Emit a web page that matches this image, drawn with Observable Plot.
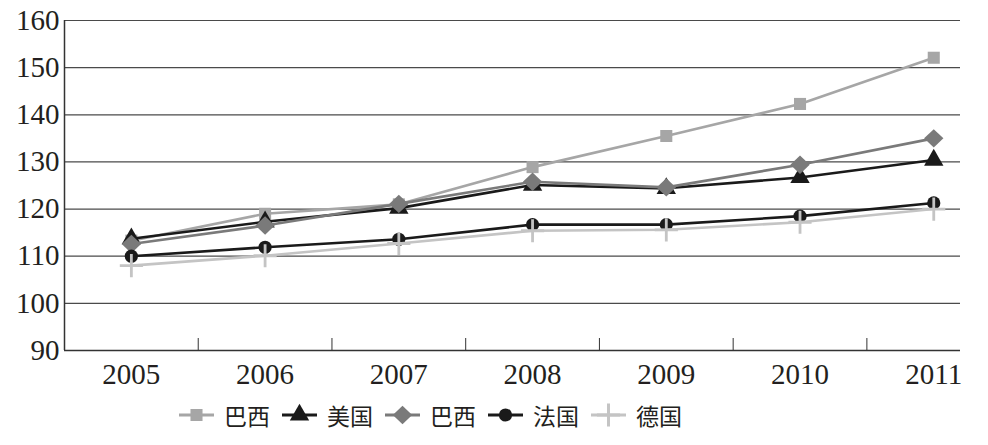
<!DOCTYPE html>
<html><head><meta charset="utf-8">
<script src="https://cdn.jsdelivr.net/npm/d3@7"></script>
<script src="https://cdn.jsdelivr.net/npm/@observablehq/plot@0.6"></script>
<style>
body{margin:0;background:#fff;}
#legend{display:flex;align-items:center;height:40px;margin-left:179px;font-family:"Noto Sans CJK SC";font-size:23px;color:#231f20;}
#legend .item{display:flex;align-items:center;margin-right:12px;}
#legend svg{margin-right:10px;}
</style>
</head><body>
<div id="chart"></div>
<div id="legend"></div>
<script>
const years = [2005, 2006, 2007, 2008, 2009, 2010, 2011];
const seriesNames = ["巴西", "美国", "巴西", "法国", "德国"];
const brazilSquare = [113.3, 119.0, 121.0, 128.9, 135.5, 142.3, 152.1];
const usa = [113.7, 117.3, 120.2, 125.1, 124.4, 126.7, 130.4];
const brazilDiamond = [112.6, 116.5, 121.1, 125.8, 124.6, 129.4, 135.0];
const france = [110.0, 111.9, 113.6, 116.7, 116.7, 118.5, 121.3];
const germany = [108.0, 110.1, 112.7, 115.4, 115.6, 117.2, 120.0];
const yTicks = [90, 100, 110, 120, 130, 140, 150, 160];
const bandEdges = [2005.5, 2006.5, 2007.5, 2008.5, 2009.5, 2010.5];

// square-ish diamond (rotated square)
const symbolRhombus = {
  draw(context, size) {
    const h = Math.sqrt(size / 2) * 1.05;
    context.moveTo(0, -h);
    context.lineTo(h * 1.05, 0);
    context.lineTo(0, h);
    context.lineTo(-h * 1.05, 0);
    context.closePath();
  }
};

const seriesValues = [brazilSquare, usa, brazilDiamond, france, germany];
const styles = [
  {color: "#a6a6a6", symbol: d3.symbolSquare, r: 6.8, filled: true},
  {color: "#1a1a1a", symbol: d3.symbolTriangle, r: 7.2, filled: true},
  {color: "#7a7a7a", symbol: symbolRhombus, r: 7.0, filled: true},
  {color: "#1a1a1a", symbol: d3.symbolCircle, r: 6.6, filled: true},
  {color: "#c4c4c4", symbol: d3.symbolPlus, r: 7.5, filled: false}
];

const marks = [
  Plot.ruleY(yTicks, {stroke: "#4a4a4a", strokeWidth: 1.2}),
  Plot.ruleX([2004.5], {stroke: "#333", strokeWidth: 1.5}),
  Plot.ruleY([90], {stroke: "#333", strokeWidth: 1.5}),
  Plot.axisX({ticks: bandEdges, tickSize: -12, tickFormat: () => "", stroke: "#333", label: null}),
  Plot.axisX({ticks: years, tickSize: 0, tickPadding: 13, tickFormat: d => String(d), fontSize: 29, fill: "#231f20", label: null}),
  Plot.axisY({ticks: yTicks, tickSize: 0, tickPadding: 5, tickFormat: d => String(d), fontSize: 29, fill: "#231f20", label: null})
];

seriesValues.forEach((vals, k) => {
  const rows = years.map((y, i) => ({year: y, value: vals[i]}));
  const s = styles[k];
  marks.push(Plot.line(rows, {x: "year", y: "value", stroke: s.color, strokeWidth: 2.6}));
  if (s.filled) {
    marks.push(Plot.dot(rows, {x: "year", y: "value", symbol: s.symbol, fill: s.color, r: s.r}));
  } else {
    marks.push(Plot.dot(rows, {x: "year", y: "value", symbol: s.symbol, stroke: s.color, strokeWidth: 2.8, r: s.r, fill: "none"}));
  }
});

const chart = Plot.plot({
  width: 988,
  height: 395,
  marginLeft: 64,
  marginRight: 28,
  marginTop: 20,
  marginBottom: 45,
  style: {fontFamily: "'Liberation Serif', serif", fontSize: "29px", color: "#231f20", background: "#fff"},
  x: {type: "linear", domain: [2004.5, 2011.2], label: null},
  y: {domain: [90, 160], label: null},
  marks
});
document.getElementById("chart").appendChild(chart);

// Legend
const legend = d3.select("#legend");
seriesNames.forEach((name, k) => {
  const s = styles[k];
  const item = legend.append("div").attr("class", "item");
  const svg = item.append("svg").attr("width", 35).attr("height", 24);
  svg.append("line").attr("x1", 0).attr("x2", 35).attr("y1", 12).attr("y2", 12)
    .attr("stroke", s.color).attr("stroke-width", 3);
  const p = svg.append("path")
    .attr("transform", "translate(17.5,12)")
    .attr("d", d3.symbol(s.symbol, s.r * s.r * Math.PI)());
  if (s.filled) p.attr("fill", s.color);
  else p.attr("fill", "none").attr("stroke", s.color).attr("stroke-width", 3);
  item.append("span").text(name);
});
</script>
</body></html>
